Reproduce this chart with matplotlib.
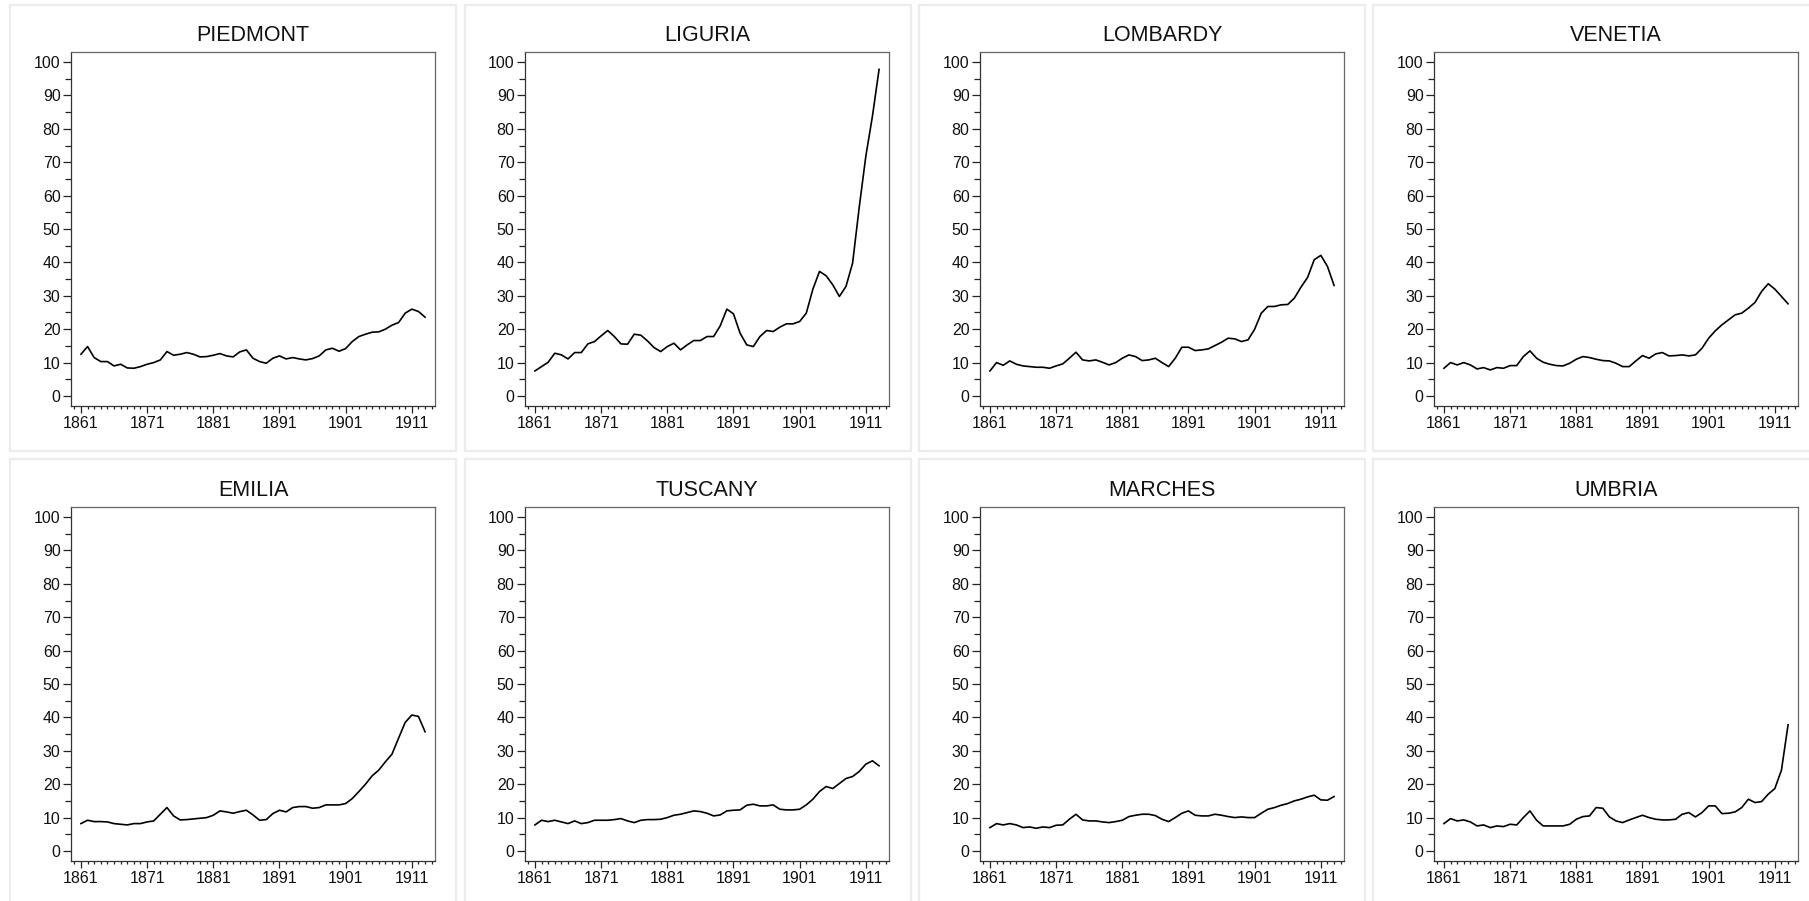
import matplotlib
matplotlib.use("Agg")
import matplotlib.pyplot as plt
from matplotlib.patches import Rectangle
from matplotlib.ticker import MultipleLocator

plt.rcParams['font.family'] = ['Liberation Sans', 'DejaVu Sans']

### Data ###

years = list(range(1861, 1914))

regions = ["PIEDMONT", "LIGURIA", "LOMBARDY", "VENETIA",
           "EMILIA", "TUSCANY", "MARCHES", "UMBRIA"]

piedmont = [12.5, 14.8, 11.5, 10.3, 10.3, 9.0, 9.5, 8.4, 8.3, 8.8,
            9.5, 10.0, 10.8, 13.3, 12.2, 12.5, 13.0, 12.5, 11.7, 11.8,
            12.2, 12.7, 12.0, 11.7, 13.2, 13.8, 11.3, 10.3, 9.8, 11.3,
            12.0, 11.1, 11.5, 11.1, 10.8, 11.2, 12.0, 13.8, 14.3, 13.4,
            14.2, 16.3, 17.8, 18.5, 19.1, 19.2, 20.0, 21.2, 22.0, 24.8,
            26.0, 25.3, 23.6]

liguria = [7.5, 8.8, 10.1, 12.8, 12.3, 11.1, 13.0, 13.0, 15.6, 16.3,
           18.0, 19.6, 17.8, 15.6, 15.5, 18.5, 18.2, 16.5, 14.5, 13.3,
           14.8, 15.8, 13.8, 15.3, 16.6, 16.6, 17.8, 17.8, 21.0, 26.0,
           24.6, 18.8, 15.3, 14.8, 17.8, 19.6, 19.3, 20.6, 21.6, 21.6,
           22.3, 24.8, 32.0, 37.3, 36.0, 33.3, 29.8, 32.8, 39.8, 56.5,
           71.8, 83.8, 97.8]

lombardy = [7.5, 10.0, 9.2, 10.5, 9.5, 9.0, 8.8, 8.6, 8.6, 8.3,
            9.0, 9.6, 11.3, 13.1, 10.8, 10.5, 10.8, 10.1, 9.3, 10.0,
            11.3, 12.3, 11.8, 10.6, 10.8, 11.3, 10.0, 8.8, 11.3, 14.6,
            14.6, 13.6, 13.8, 14.1, 15.1, 16.1, 17.3, 17.1, 16.3, 16.8,
            20.0, 24.8, 26.8, 26.8, 27.3, 27.4, 29.3, 32.6, 35.5, 40.8,
            42.1, 38.8, 33.1]

venetia = [8.3, 10.0, 9.3, 10.0, 9.3, 8.1, 8.5, 7.8, 8.5, 8.3,
           9.1, 9.1, 11.8, 13.5, 11.3, 10.1, 9.5, 9.1, 9.0, 9.8,
           11.0, 11.8, 11.5, 11.0, 10.6, 10.5, 9.8, 8.8, 8.8, 10.5,
           12.1, 11.3, 12.6, 13.0, 12.0, 12.1, 12.3, 12.0, 12.3, 14.3,
           17.3, 19.5, 21.3, 22.8, 24.3, 24.8, 26.3, 28.0, 31.3, 33.6,
           32.0, 29.8, 27.6]

emilia = [8.2, 9.2, 8.8, 8.8, 8.7, 8.2, 8.0, 7.8, 8.2, 8.2,
          8.7, 9.0, 11.0, 13.0, 10.5, 9.3, 9.4, 9.6, 9.8, 10.0,
          10.7, 12.0, 11.7, 11.3, 11.8, 12.2, 10.8, 9.2, 9.4, 11.2,
          12.2, 11.7, 13.0, 13.3, 13.3, 12.8, 13.0, 13.8, 13.8, 13.8,
          14.2, 15.7, 17.8, 20.0, 22.5, 24.2, 26.7, 29.0, 33.8, 38.5,
          40.7, 40.3, 35.7]

tuscany = [7.8, 9.2, 8.8, 9.2, 8.7, 8.2, 9.0, 8.2, 8.5, 9.2,
           9.2, 9.2, 9.4, 9.7, 9.0, 8.5, 9.2, 9.4, 9.4, 9.5,
           10.0, 10.7, 11.0, 11.5, 12.0, 11.8, 11.3, 10.5, 10.8, 12.0,
           12.2, 12.3, 13.7, 14.0, 13.5, 13.5, 13.8, 12.5, 12.3, 12.3,
           12.5, 13.8, 15.5, 17.8, 19.3, 18.7, 20.2, 21.7, 22.3, 23.8,
           26.0, 27.0, 25.5]

marches = [7.0, 8.2, 7.8, 8.2, 7.8, 7.0, 7.2, 6.8, 7.2, 7.0,
           7.7, 7.8, 9.5, 11.0, 9.3, 9.0, 9.0, 8.7, 8.5, 8.8,
           9.2, 10.3, 10.7, 11.0, 11.0, 10.6, 9.5, 8.8, 10.0, 11.3,
           12.0, 10.7, 10.5, 10.5, 11.0, 10.7, 10.3, 10.0, 10.2, 10.0,
           10.0, 11.3, 12.5, 13.0, 13.7, 14.2, 15.0, 15.5, 16.2, 16.7,
           15.3, 15.2, 16.3]

umbria = [8.2, 9.7, 9.0, 9.3, 8.7, 7.5, 7.8, 7.0, 7.5, 7.3,
          8.0, 7.8, 10.0, 12.0, 9.2, 7.5, 7.5, 7.5, 7.5, 8.0,
          9.5, 10.3, 10.5, 13.0, 12.8, 10.2, 9.0, 8.5, 9.3, 10.0,
          10.7, 10.0, 9.5, 9.3, 9.3, 9.5, 11.0, 11.5, 10.2, 11.5,
          13.5, 13.5, 11.2, 11.3, 11.7, 13.0, 15.5, 14.5, 14.8, 17.0,
          18.7, 24.2, 37.8]

series = [piedmont, liguria, lombardy, venetia,
          emilia, tuscany, marches, umbria]

year_ticks = [1861, 1871, 1881, 1891, 1901, 1911]
value_ticks = list(range(0, 101, 10))

### Layout (pixels of the 1809x901 picture) ###

W, H = 1809, 901
box_left = [10, 465, 919, 1373]
box_top = [5, 459]
box_w, box_h = 446, 446
ax_left = [71, 525, 980, 1434]
ax_top = [52, 507]
ax_w, ax_h = 364, 354

fig = plt.figure(figsize=(W / 100, H / 100), dpi=100)
fig.patch.set_facecolor('white')

for i in range(8):
    row, col = divmod(i, 4)

    # light frame around each panel
    fig.patches.append(Rectangle(
        (box_left[col] / W, 1 - (box_top[row] + box_h) / H),
        box_w / W, box_h / H, transform=fig.transFigure,
        facecolor='none', edgecolor='#ececec', linewidth=1.6))

    ax = fig.add_axes([ax_left[col] / W, 1 - (ax_top[row] + ax_h) / H,
                       ax_w / W, ax_h / H])
    ax.plot(years, series[i], color='black', linewidth=1.2)
    ax.set_title(regions[i], fontsize=15.5, pad=8, color='#111111')

    ax.set_xlim(1859.5, 1914.5)
    ax.set_ylim(-3, 103)
    ax.set_xticks(year_ticks)
    ax.set_yticks(value_ticks)
    ax.xaxis.set_minor_locator(MultipleLocator(1))
    ax.yaxis.set_minor_locator(MultipleLocator(5))

    ax.tick_params(axis='both', which='both', direction='out',
                   color='#222222', width=0.9, labelsize=11.5,
                   labelcolor='#111111')
    ax.tick_params(axis='y', which='major', length=6, pad=1.5)
    ax.tick_params(axis='y', which='minor', length=4.5)
    ax.tick_params(axis='x', which='major', length=5, pad=2)
    ax.tick_params(axis='x', which='minor', length=2.5)

    for side in ['top', 'right']:
        ax.spines[side].set_color('#666666')
        ax.spines[side].set_linewidth(0.9)
    for side in ['left', 'bottom']:
        ax.spines[side].set_color('#333333')
        ax.spines[side].set_linewidth(0.9)

plt.savefig('out.png', dpi=100, facecolor='white')
